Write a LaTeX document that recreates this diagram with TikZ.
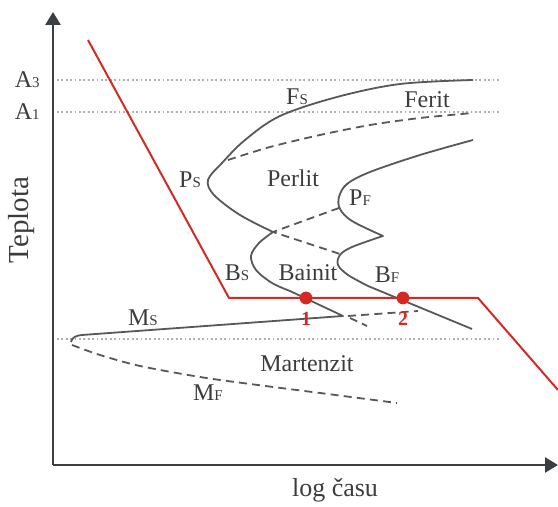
\documentclass[tikz,border=0pt]{standalone}
\usepackage{fontspec}
\setmainfont{Liberation Serif}
\usetikzlibrary{arrows.meta}
\definecolor{curvecol}{HTML}{585858}
\definecolor{axiscol}{HTML}{3A3F44}
\definecolor{dotcol}{HTML}{B0B0B0}
\definecolor{redcol}{HTML}{D42A24}
\definecolor{textcol}{HTML}{3C3C3C}
\newcommand\subl[2]{#1{\fontsize{7.5}{8}\selectfont #2}}
\tikzset{
  axisline/.style={draw=axiscol, line width=1.3pt, -{Triangle[length=6.5pt,width=7.5pt]}},
  levelline/.style={draw=dotcol, line width=0.7pt, dash pattern=on 0.9pt off 1.3pt},
  solidcurve/.style={draw=curvecol, line width=0.9pt, line join=round},
  dashcurve/.style={draw=curvecol, line width=0.9pt, dash pattern=on 4pt off 2.6pt},
  coolline/.style={draw=redcol, line width=1pt, line join=miter},
  reddot/.style={circle, fill=redcol, inner sep=0pt, minimum size=6.4pt},
  lbl/.style={text=textcol, inner sep=0pt, font=\fontsize{12}{14}\selectfont},
  numlbl/.style={text=redcol, inner sep=0pt, font=\fontsize{10}{12}\selectfont\bfseries},
}
\begin{document}
\begin{tikzpicture}[x=0.5pt,y=-0.5pt]
\useasboundingbox (0,0) rectangle (558,507);
% axes
\coordinate (o) at (53,465);
\coordinate (ytip) at (53,12);
\coordinate (xtip) at (558,465);
\draw[axisline] (o) -- (ytip);
\draw[axisline] (o) -- (xtip);
% level lines
\coordinate (a3l) at (57,80); \coordinate (a3r) at (500,80);
\coordinate (a1l) at (57,112); \coordinate (a1r) at (500,112);
\coordinate (msl) at (57,339); \coordinate (msr) at (500,339);
\draw[levelline] (a3l) -- (a3r);
\draw[levelline] (a1l) -- (a1r);
\draw[levelline] (msl) -- (msr);
% Ps / Bs / Ms curve
\draw[solidcurve] plot[smooth, tension=0.55] coordinates {(473,80) (400,84) (337,97) (280,116) (245,140) (222,163) (208,180) (214,195) (240,215) (273,232)}
  -- plot[smooth, tension=0.55] coordinates {(273,232) (259,243) (251,256) (256,270) (272,283) (290,291)}
  -- (343,316) -- (82,335) to[out=185,in=80] (71,342);
% Pf / Bf curve
\draw[solidcurve] plot[smooth, tension=0.55] coordinates {(473,140) (420,155) (370,172) (347,184) (339,197) (340,209) (352,221) (383,236)}
  -- plot[smooth, tension=0.55] coordinates {(383,236) (352,247) (340,255) (338,265) (348,275) (368,286)}
  -- (472,329);
% ferrite finish
\draw[dashcurve] plot[smooth, tension=0.5] coordinates {(228,160) (270,147) (320,135) (370,125) (420,118) (473,113)};
% pearlite finish pieces
\draw[dashcurve] (339,208) -- (273,232) -- (340,254);
\draw[dashcurve] (348,316) -- (418,311);
\draw[dashcurve] (350,318) -- (367,326);
% Mf
\draw[dashcurve] plot[smooth, tension=0.5] coordinates {(72,345) (100,355) (140,366) (200,377) (250,384) (320,393) (397,403)};
% cooling curve
\draw[coolline] (88,40) -- (229,298) -- (478,298) -- (558,390);
\node[reddot] (p1) at (306,298) {};
\node[reddot] (p2) at (403,298) {};
\node[numlbl] (n1) at (306,319) {1};
\node[numlbl] (n2) at (403,319) {2};
% labels
\node[lbl, anchor=east] (la3) at (40,80) {\subl{A}{3}};
\node[lbl, anchor=east] (la1) at (40,112) {\subl{A}{1}};
\node[lbl, rotate=90, font=\fontsize{14.5}{16}\selectfont] (teplota) at (22,220) {Teplota};
\node[lbl, font=\fontsize{13}{15}\selectfont] (logcasu) at (335,490) {log času};
\node[lbl] (fs) at (297,97) {\subl{F}{S}};
\node[lbl] (ferit) at (427,100) {Ferit};
\node[lbl] (ps) at (190,180) {\subl{P}{S}};
\node[lbl] (perlit) at (293,178) {Perlit};
\node[lbl] (pf) at (360,198) {\subl{P}{F}};
\node[lbl] (bs) at (237,273) {\subl{B}{S}};
\node[lbl] (bainit) at (308,273) {Bainit};
\node[lbl] (bf) at (387,275) {\subl{B}{F}};
\node[lbl] (ms) at (143,318) {\subl{M}{S}};
\node[lbl] (martenzit) at (307,364) {Martenzit};
\node[lbl] (mf) at (208,393) {\subl{M}{F}};
\end{tikzpicture}
\end{document}
